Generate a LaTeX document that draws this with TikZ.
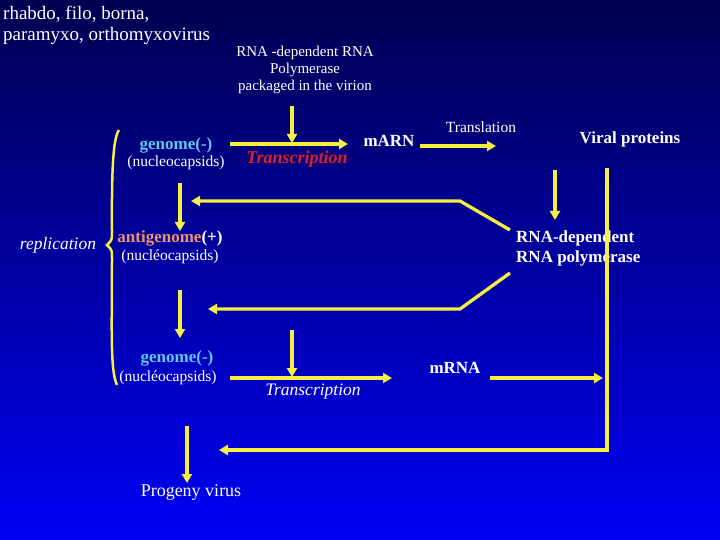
\documentclass[tikz,border=0pt]{standalone}
\usepackage{fontspec}
\setmainfont{Liberation Serif}
\usetikzlibrary{arrows.meta}
\definecolor{yel}{HTML}{F8F040}
\definecolor{lblue}{HTML}{60C8F0}
\definecolor{salmon}{HTML}{F09070}
\definecolor{tred}{HTML}{E02020}
\begin{document}
\begin{tikzpicture}[x=1pt,y=-1pt,
  arr/.style={yel,line width=3.3pt,-{Triangle[length=9pt,width=10pt]}},
  ln/.style={yel,line width=3.3pt},
  tx/.style={text=white,font=\fontsize{17}{19}\selectfont,inner sep=0pt},
  bx/.style={text=white,font=\bfseries\fontsize{17}{20}\selectfont,inner sep=0pt},
  sm/.style={text=white,font=\fontsize{15.5}{17}\selectfont,inner sep=0pt}]
\shade[top color={rgb,255:red,0;green,0;blue,80},bottom color={rgb,255:red,0;green,0;blue,245}] (0,0) rectangle (720,540);
\useasboundingbox (0,0) rectangle (720,540);
\node[tx,font=\fontsize{19}{21}\selectfont,anchor=west,align=left] (vir) at (3,25) {rhabdo, filo, borna,\\paramyxo, orthomyxovirus};
\node[text=white,font=\fontsize{15}{17}\selectfont,inner sep=0pt,align=center] (pol) at (305,70) {RNA -dependent RNA\\Polymerase\\packaged in the virion};
\node[bx,text=lblue] (g1) at (176,145) {genome(-)};
\node[sm] (n1) at (176,163) {(nucleocapsids)};
\node[tx,text=tred,font=\bfseries\itshape\fontsize{18}{20}\selectfont] (tr1) at (297,159) {Transcription};
\node[bx] (marn) at (389,141) {mARN};
\node[sm] (tl) at (481,127) {Translation};
\node[bx] (vp) at (630,139) {Viral proteins};
\node[bx,align=left,anchor=west] (rdrp) at (516,248) {RNA-dependent\\RNA polymerase};
\node[bx] (ag) at (170,238) {\color{salmon}antigenome\color{white}(+)};
\node[sm] (n2) at (170,257) {(nucléocapsids)};
\node[tx,font=\itshape\fontsize{17.5}{19}\selectfont] (rep) at (58,245) {replication};
\node[bx,text=lblue] (g2) at (177,358) {genome(-)};
\node[sm] (n3) at (168,378) {(nucléocapsids)};
\node[tx,font=\itshape\fontsize{17.5}{19}\selectfont] (tr2) at (313,392) {Transcription};
\node[bx] (mrna) at (455,368) {mRNA};
\node[tx,font=\fontsize{18}{20}\selectfont] (prog) at (191,492) {Progeny virus};
% brace
\draw[ln,line width=2.5pt] (119,130) .. controls (111,140) and (112,200) .. (112,232) .. controls (112,240) .. (107,245) .. controls (112,250) .. (112,258) .. controls (112,330) and (110,370) .. (117,385);
% arrows
\coordinate (t1s) at (230,144); \coordinate (t1e) at (348,144);
\draw[arr] (t1s) -- (t1e);
\draw[arr] (292,106) -- (292,143);
\draw[arr] (420,146) -- (496,146);
\draw[arr] (555,170) -- (555,220);
\draw[arr] (510,230) -- (460,201) -- (191,201);
\draw[arr] (510,273) -- (460,309) -- (208,309);
\draw[arr] (180,183) -- (180,231);
\draw[arr] (180,290) -- (180,338);
\draw[arr] (230,378) -- (392,378);
\draw[arr] (292,330) -- (292,377);
\draw[arr] (490,378) -- (603,378);
\draw[arr] (607,168) -- (607,450) -- (219,450);
\draw[arr] (187,426) -- (187,483);
\end{tikzpicture}
\end{document}
